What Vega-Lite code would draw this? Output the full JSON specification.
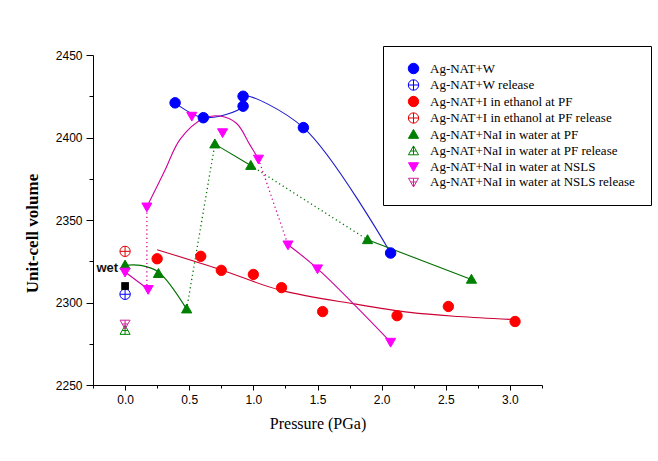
{
  "$schema": "https://vega.github.io/schema/vega-lite/v6.json",
  "width": 449,
  "height": 330,
  "autosize": {"type": "none"},
  "padding": {"left": 93, "top": 55, "right": 116, "bottom": 76},
  "background": "white",
  "config": {
    "view": {"stroke": null},
    "axis": {"grid": false, "domainColor": "black", "tickColor": "black", "labelColor": "black", "labelFont": "Liberation Sans", "labelFontSize": 12, "titleColor": "black", "titleFont": "Liberation Serif", "domainWidth": 1, "tickWidth": 1},
    "legend": {"orient": "none", "legendX": 290, "legendY": -9, "strokeColor": "black", "strokeWidth": 1, "fillColor": "white", "padding": 16, "labelFont": "Liberation Serif", "labelFontSize": 13, "labelColor": "black", "rowPadding": 1.5, "symbolOffset": 8, "labelOffset": 10, "symbolStrokeWidth": 1, "labelLimit": 300}
  },
  "datasets": {
    "points": [
      {"series": "Ag-NAT+W", "x": 0.39, "y": 2421},
      {"series": "Ag-NAT+W", "x": 0.61, "y": 2412},
      {"series": "Ag-NAT+W", "x": 0.92, "y": 2419},
      {"series": "Ag-NAT+W", "x": 0.92, "y": 2425},
      {"series": "Ag-NAT+W", "x": 1.39, "y": 2406},
      {"series": "Ag-NAT+W", "x": 2.07, "y": 2330},
      {"series": "Ag-NAT+W release", "x": 0, "y": 2305},
      {"series": "Ag-NAT+I in ethanol at PF", "x": 0.25, "y": 2326.5},
      {"series": "Ag-NAT+I in ethanol at PF", "x": 0.59, "y": 2328},
      {"series": "Ag-NAT+I in ethanol at PF", "x": 0.75, "y": 2319.5},
      {"series": "Ag-NAT+I in ethanol at PF", "x": 1.0, "y": 2317},
      {"series": "Ag-NAT+I in ethanol at PF", "x": 1.22, "y": 2309},
      {"series": "Ag-NAT+I in ethanol at PF", "x": 1.54, "y": 2294.5},
      {"series": "Ag-NAT+I in ethanol at PF", "x": 2.12, "y": 2292},
      {"series": "Ag-NAT+I in ethanol at PF", "x": 2.52, "y": 2297.6},
      {"series": "Ag-NAT+I in ethanol at PF", "x": 3.04, "y": 2288.5},
      {"series": "Ag-NAT+I in ethanol at PF release", "x": 0, "y": 2331},
      {"series": "Ag-NAT+NaI in water at PF", "x": 0, "y": 2322.6},
      {"series": "Ag-NAT+NaI in water at PF", "x": 0.26, "y": 2317.5},
      {"series": "Ag-NAT+NaI in water at PF", "x": 0.48, "y": 2296},
      {"series": "Ag-NAT+NaI in water at PF", "x": 0.70, "y": 2396},
      {"series": "Ag-NAT+NaI in water at PF", "x": 0.98, "y": 2383},
      {"series": "Ag-NAT+NaI in water at PF", "x": 1.89, "y": 2338},
      {"series": "Ag-NAT+NaI in water at PF", "x": 2.70, "y": 2314},
      {"series": "Ag-NAT+NaI in water at PF release", "x": 0, "y": 2283},
      {"series": "Ag-NAT+NaI in water at NSLS", "x": 0, "y": 2318.5},
      {"series": "Ag-NAT+NaI in water at NSLS", "x": 0.18, "y": 2308},
      {"series": "Ag-NAT+NaI in water at NSLS", "x": 0.17, "y": 2358},
      {"series": "Ag-NAT+NaI in water at NSLS", "x": 0.52, "y": 2413},
      {"series": "Ag-NAT+NaI in water at NSLS", "x": 0.76, "y": 2403},
      {"series": "Ag-NAT+NaI in water at NSLS", "x": 1.04, "y": 2387},
      {"series": "Ag-NAT+NaI in water at NSLS", "x": 1.27, "y": 2335},
      {"series": "Ag-NAT+NaI in water at NSLS", "x": 1.50, "y": 2320.5},
      {"series": "Ag-NAT+NaI in water at NSLS", "x": 2.07, "y": 2276},
      {"series": "Ag-NAT+NaI in water at NSLS release", "x": 0, "y": 2287}
    ],
    "solid": [
      {"group": "W", "seg": "W1", "k": 1, "x": 0.39, "y": 2421},
      {"group": "W", "seg": "W1", "k": 2, "x": 0.61, "y": 2412},
      {"group": "W", "seg": "W1", "k": 3, "x": 0.92, "y": 2419},
      {"group": "W", "seg": "W1", "k": 4, "x": 0.92, "y": 2425},
      {"group": "W", "seg": "W1", "k": 5, "x": 1.39, "y": 2406},
      {"group": "W", "seg": "W1", "k": 6, "x": 2.07, "y": 2330},
      {"group": "I", "seg": "I1", "k": 1, "x": 0.25, "y": 2332},
      {"group": "I", "seg": "I1", "k": 2, "x": 0.74, "y": 2320},
      {"group": "I", "seg": "I1", "k": 3, "x": 1.21, "y": 2307.5},
      {"group": "I", "seg": "I1", "k": 4, "x": 1.8, "y": 2299},
      {"group": "I", "seg": "I1", "k": 5, "x": 2.22, "y": 2294},
      {"group": "I", "seg": "I1", "k": 6, "x": 2.6, "y": 2291.5},
      {"group": "I", "seg": "I1", "k": 7, "x": 3.07, "y": 2289.5},
      {"group": "P", "seg": "P1", "k": 1, "x": 0, "y": 2322.6},
      {"group": "P", "seg": "P1", "k": 2, "x": 0.12, "y": 2322.5},
      {"group": "P", "seg": "P1", "k": 3, "x": 0.26, "y": 2318.5},
      {"group": "P", "seg": "P1", "k": 4, "x": 0.48, "y": 2296},
      {"group": "P", "seg": "P2", "k": 1, "x": 0.70, "y": 2396},
      {"group": "P", "seg": "P2", "k": 2, "x": 0.98, "y": 2383},
      {"group": "P", "seg": "P3", "k": 1, "x": 1.89, "y": 2338},
      {"group": "P", "seg": "P3", "k": 2, "x": 2.70, "y": 2314},
      {"group": "N", "seg": "N1", "k": 1, "x": 0, "y": 2318.5},
      {"group": "N", "seg": "N1", "k": 2, "x": 0.18, "y": 2308},
      {"group": "N", "seg": "N2", "k": 1, "x": 0.17, "y": 2358},
      {"group": "N", "seg": "N2", "k": 2, "x": 0.31, "y": 2380},
      {"group": "N", "seg": "N2", "k": 3, "x": 0.43, "y": 2399},
      {"group": "N", "seg": "N2", "k": 4, "x": 0.61, "y": 2411.5},
      {"group": "N", "seg": "N2", "k": 5, "x": 0.74, "y": 2413},
      {"group": "N", "seg": "N2", "k": 6, "x": 0.87, "y": 2408.5},
      {"group": "N", "seg": "N2", "k": 7, "x": 0.97, "y": 2396},
      {"group": "N", "seg": "N2", "k": 8, "x": 1.04, "y": 2387},
      {"group": "N", "seg": "N3", "k": 1, "x": 1.27, "y": 2335},
      {"group": "N", "seg": "N3", "k": 2, "x": 1.50, "y": 2320.5},
      {"group": "N", "seg": "N3", "k": 3, "x": 2.07, "y": 2276}
    ],
    "dotted": [
      {"group": "P", "seg": "PD1", "k": 1, "x": 0.48, "y": 2296},
      {"group": "P", "seg": "PD1", "k": 2, "x": 0.70, "y": 2396},
      {"group": "P", "seg": "PD2", "k": 1, "x": 0.98, "y": 2383},
      {"group": "P", "seg": "PD2", "k": 2, "x": 1.89, "y": 2338},
      {"group": "N", "seg": "ND1", "k": 1, "x": 0.17, "y": 2308},
      {"group": "N", "seg": "ND1", "k": 2, "x": 0.17, "y": 2358},
      {"group": "N", "seg": "ND2", "k": 1, "x": 1.04, "y": 2387},
      {"group": "N", "seg": "ND2", "k": 2, "x": 1.27, "y": 2335}
    ],
    "wet": [
      {"label": "wet", "x": 0, "y": 2310, "ty": 2321}
    ]
  },
  "layer": [
    {
      "layer": [
        {
          "data": {"name": "solid"},
          "mark": {"type": "line", "interpolate": "catmull-rom", "strokeWidth": 1.1},
          "encoding": {
            "x": {"field": "x", "type": "quantitative", "scale": {"domain": [-0.25, 3.25], "nice": false, "zero": false}, "axis": {"title": "Pressure (PGa)", "titleFontSize": 16, "titleFontWeight": "normal", "titlePadding": 10, "values": [0, 0.5, 1, 1.5, 2, 2.5, 3], "format": ".1f", "tickSize": 5, "labelPadding": 4, "labelFlush": false}},
            "y": {"field": "y", "type": "quantitative", "scale": {"domain": [2250, 2450], "nice": false, "zero": false}, "axis": {"title": "Unit-cell volume", "titleFontSize": 17, "titleFontWeight": "bold", "titlePadding": 14, "titleY": 178, "values": [2250, 2300, 2350, 2400, 2450], "format": "d", "tickSize": 7, "labelPadding": 4, "labelFlush": false}},
            "detail": {"field": "seg"},
            "order": {"field": "k"},
            "color": {"field": "group", "type": "nominal", "scale": {"domain": ["W", "I", "P", "N"], "range": ["#1a1acc", "#cc0033", "#007000", "#cc0099"]}, "legend": null}
          }
        },
        {
          "data": {"name": "dotted"},
          "mark": {"type": "line", "strokeDash": [1.2, 3], "strokeWidth": 1.3},
          "encoding": {
            "x": {"field": "x", "type": "quantitative"},
            "y": {"field": "y", "type": "quantitative"},
            "detail": {"field": "seg"},
            "order": {"field": "k"},
            "color": {"field": "group", "type": "nominal", "legend": null}
          }
        },
        {
          "data": {"name": "points"},
          "mark": {"type": "point", "strokeWidth": 1, "opacity": 1},
          "encoding": {
            "x": {"field": "x", "type": "quantitative"},
            "y": {"field": "y", "type": "quantitative"},
            "shape": {"field": "series", "type": "nominal", "scale": {"domain": ["Ag-NAT+W", "Ag-NAT+W release", "Ag-NAT+I in ethanol at PF", "Ag-NAT+I in ethanol at PF release", "Ag-NAT+NaI in water at PF", "Ag-NAT+NaI in water at PF release", "Ag-NAT+NaI in water at NSLS", "Ag-NAT+NaI in water at NSLS release"], "range": ["circle", "M-1,0A1,1,0,1,1,1,0A1,1,0,1,1,-1,0ZM-1,0L1,0M0,-1L0,1", "circle", "M-1,0A1,1,0,1,1,1,0A1,1,0,1,1,-1,0ZM-1,0L1,0M0,-1L0,1", "M0,-1L1,0.75L-1,0.75Z", "M0,-1L1,0.75L-1,0.75ZM0,-1L0,0.75M-0.55,0L0.55,0", "M0,1L1,-0.75L-1,-0.75Z", "M0,1L1,-0.75L-1,-0.75ZM0,1L0,-0.75M-0.55,0L0.55,0"]}, "legend": {"title": null}},
            "fill": {"field": "series", "type": "nominal", "scale": {"domain": ["Ag-NAT+W", "Ag-NAT+W release", "Ag-NAT+I in ethanol at PF", "Ag-NAT+I in ethanol at PF release", "Ag-NAT+NaI in water at PF", "Ag-NAT+NaI in water at PF release", "Ag-NAT+NaI in water at NSLS", "Ag-NAT+NaI in water at NSLS release"], "range": ["#0000ff", "transparent", "#ff0000", "transparent", "#008000", "transparent", "#ff00ff", "transparent"]}, "legend": {"title": null}},
            "stroke": {"field": "series", "type": "nominal", "scale": {"domain": ["Ag-NAT+W", "Ag-NAT+W release", "Ag-NAT+I in ethanol at PF", "Ag-NAT+I in ethanol at PF release", "Ag-NAT+NaI in water at PF", "Ag-NAT+NaI in water at PF release", "Ag-NAT+NaI in water at NSLS", "Ag-NAT+NaI in water at NSLS release"], "range": ["#0000ff", "#0000ff", "#ff0000", "#e00000", "#008000", "#008000", "#ff00ff", "#d0209a"]}, "legend": {"title": null}},
            "size": {"field": "series", "type": "nominal", "scale": {"domain": ["Ag-NAT+W", "Ag-NAT+W release", "Ag-NAT+I in ethanol at PF", "Ag-NAT+I in ethanol at PF release", "Ag-NAT+NaI in water at PF", "Ag-NAT+NaI in water at PF release", "Ag-NAT+NaI in water at NSLS", "Ag-NAT+NaI in water at NSLS release"], "range": [110, 100, 110, 100, 170, 140, 170, 140]}, "legend": {"title": null}}
          }
        },
        {
          "data": {"name": "wet"},
          "mark": {"type": "square", "filled": true, "color": "black", "opacity": 1, "size": 60},
          "encoding": {
            "x": {"field": "x", "type": "quantitative"},
            "y": {"field": "y", "type": "quantitative"}
          }
        },
        {
          "data": {"name": "wet"},
          "mark": {"type": "text", "align": "right", "baseline": "middle", "dx": -7, "font": "Liberation Sans", "fontSize": 13, "fontWeight": "bold", "color": "#111"},
          "encoding": {
            "x": {"field": "x", "type": "quantitative"},
            "y": {"field": "ty", "type": "quantitative"},
            "text": {"field": "label"}
          }
        }
      ]
    },
    {
      "data": {"name": "wet"},
      "mark": {"type": "point", "opacity": 0},
      "encoding": {
        "x": {"field": "x", "type": "quantitative", "axis": {"orient": "bottom", "title": null, "labels": false, "domain": false, "values": [-0.25, 0.25, 0.75, 1.25, 1.75, 2.25, 2.75, 3.25], "tickSize": 3}},
        "y": {"field": "y", "type": "quantitative", "axis": {"orient": "left", "title": null, "labels": false, "domain": false, "values": [2275, 2325, 2375, 2425], "tickSize": 4}}
      }
    }
  ],
  "resolve": {"axis": {"x": "independent", "y": "independent"}}
}
